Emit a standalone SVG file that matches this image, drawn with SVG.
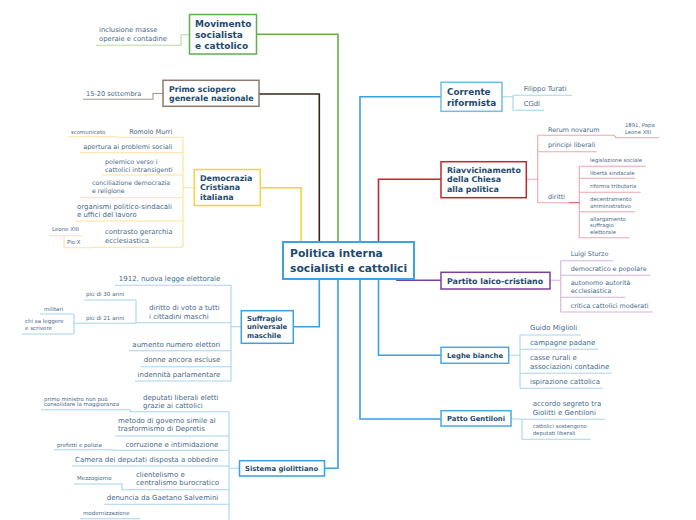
<svg xmlns="http://www.w3.org/2000/svg" width="696" height="520" viewBox="0 0 696 520">
<style>
text{font-family:"DejaVu Sans",Verdana,sans-serif}
.nt{font-weight:bold;fill:#1d4a6e}
.ct{fill:#47698a}
.nd{fill:#fff;stroke-width:1.5}
.m{fill:none;stroke-width:1.6}
.u{fill:none;stroke-width:1.1}
.g{stroke:#b7dba3}.b{stroke:#a3968d}.y{stroke:#fbe39a}.bl{stroke:#a7d4f2}.r{stroke:#eaa7aa}.p{stroke:#d4b4e2}
</style>
<rect width="696" height="520" fill="#fff"/>
<g id="connectors">
<path class="m" stroke="#f5d33a" d="M301,242V187.7H260.3"/>
<path class="m" stroke="#3b2416" d="M319.3,242V94H259"/>
<path class="m" stroke="#64b14b" d="M338,242V34.3H256.7"/>
<path class="m" stroke="#3aa0e0" d="M360,242V96.7H441"/>
<path class="m" stroke="#c1272d" d="M378.5,242V179.3H441"/>
<path class="m" stroke="#3aa0e0" d="M319.3,279V326.7H293.3"/>
<path class="m" stroke="#3aa0e0" d="M338,279V468.3H324.3"/>
<path class="m" stroke="#3aa0e0" d="M360,279V419H441"/>
<path class="m" stroke="#3aa0e0" d="M378.5,279V355.3H441"/>
<path class="m" stroke="#7b3f9e" d="M397,279V280.3H441"/>
<!-- movimento -->
<path class="u g" d="M189.5,34.7H181V45.3H96"/>
<!-- primo -->
<path class="u b" d="M163,93.5H153V99.3H83"/>
<!-- DC -->
<path class="u y" d="M194.3,187.7H183M183,137.3V247.3M183,137.3H116M116,136.7H68M183,152.7H80M183,175H102M183,197.7H80M183,221H75M183,247.3H91M91,247.7H64V235.7M82,235.7H49"/>
<!-- suffragio -->
<path class="u bl" d="M241.3,326.7H231M231,285.3V381M231,285.3H115M231,322.7H136M136,300V323.3M136,300H84M136,323.3H74M74,314V334M74,314H40M74,334H22M231,350.7H129M231,366.7H141M231,381H135"/>
<!-- sistema -->
<path class="u bl" d="M239.5,468.3H229M229,411.7V520M229,411.7H130V409.7H41M229,436H115M229,450.3H112V449.7H54M229,466H72M229,489.7H122V484H74M229,504.3H104M80,518.7H140"/>
<!-- corrente -->
<path class="u bl" d="M502,96.7H513M513,95.3V110.3M513,95.3H572M513,110.3H544"/>
<!-- riavvicinamento -->
<path class="u r" d="M526.3,179.3H537.7M537.7,135.3V202.7M537.7,135.3H614L616,137.7H659M537.7,151.7H596.7M537.7,202.7H568.7M579.3,166.3V237.7M579.3,166.3H645.7M579.3,178.3H635M579.3,192.3H640.7M579.3,211.7H635M579.3,237.7H629.3"/>
<path class="u" stroke="#d0585c" d="M568.7,202.7H579.3"/>
<!-- partito -->
<path class="u p" d="M550,280.3H560.7M560.7,260.7V312M560.7,260.7H613.3M560.7,275.3H650.7M560.7,297.3H625.7M560.7,312H652.7"/>
<!-- leghe -->
<path class="u bl" d="M508.7,355.3H520M520,335V388.3M520,335H580.7M520,349.3H598.3M520,373.3H611.7M520,388.3H602.7"/>
<!-- patto -->
<path class="u bl" d="M511,419H522M522,419V439.3M522,419.3H605M522,439.3H590.7"/>
</g>

<g id="center">
<rect x="283" y="242" width="131" height="37" fill="#fff" stroke="#3ba3e3" stroke-width="2"/>
<text class="nt" font-size="10.75" x="290" y="257">Politica interna</text>
<text class="nt" font-size="10.75" x="290" y="272">socialisti e cattolici</text>
</g>

<g id="movimento">
<rect class="nd" x="189.5" y="14.5" width="67" height="39.5" stroke="#5fae4f"/>
<text class="nt" font-size="9" x="195" y="27.3">Movimento</text>
<text class="nt" font-size="9" x="195" y="38">socialista</text>
<text class="nt" font-size="9" x="195" y="48.7">e cattolico</text>
<text class="ct" font-size="6.8" x="99" y="32">inclusione masse</text>
<text class="ct" font-size="6.8" x="99" y="41.3">operaie e contadine</text>
</g>

<g id="primo-sciopero">
<rect class="nd" x="163" y="80.3" width="96" height="26" stroke="#8b7a70"/>
<text class="nt" font-size="7.9" x="169" y="92.3">Primo sciopero</text>
<text class="nt" font-size="7.9" x="169" y="101.3">generale nazionale</text>
<text class="ct" font-size="6.6" x="86" y="95.5">15-20 settembra</text>
</g>

<g id="democrazia-cristiana">
<rect class="nd" x="194.3" y="169.5" width="66" height="36" stroke="#f5d33a"/>
<text class="nt" font-size="7.95" x="200" y="180.5">Democrazia</text>
<text class="nt" font-size="7.95" x="200" y="190.2">Cristiana</text>
<text class="nt" font-size="7.95" x="200" y="199.9">italiana</text>
<text class="ct" font-size="6.5" x="172.3" y="134" text-anchor="end">Romolo Murri</text>
<text class="ct" font-size="5.4" x="71" y="133.5">scomunicato</text>
<text class="ct" font-size="6.5" x="172.3" y="148.5" text-anchor="end">apertura ai problemi sociali</text>
<text class="ct" font-size="6.4" x="105" y="163.7">polemico verso i</text>
<text class="ct" font-size="6.4" x="105" y="172">cattolici intransigenti</text>
<text class="ct" font-size="6.2" x="92" y="184.5">conciliazione democrazia</text>
<text class="ct" font-size="6.2" x="92" y="193">e religione</text>
<text class="ct" font-size="6.95" x="77" y="208.7">organismi politico-sindacali</text>
<text class="ct" font-size="6.95" x="77" y="217.3">e uffici del lavoro</text>
<text class="ct" font-size="6.9" x="105" y="233.7">contrasto gerarchia</text>
<text class="ct" font-size="6.9" x="105" y="243">ecclesiastica</text>
<text class="ct" font-size="5.5" x="52" y="231">Leone XIII</text>
<text class="ct" font-size="5.5" x="67" y="244">Pio X</text>
</g>

<g id="suffragio">
<rect class="nd" x="241.3" y="310.7" width="52" height="32.6" stroke="#3aa0e0"/>
<text class="nt" font-size="6.85" x="247" y="320.5">Suffragio</text>
<text class="nt" font-size="6.85" x="247" y="329">universale</text>
<text class="nt" font-size="6.85" x="247" y="337.5">maschile</text>
<text class="ct" font-size="7" x="220.3" y="281.3" text-anchor="end">1912, nuova legge elettorale</text>
<text class="ct" font-size="7" x="149" y="310">diritto di voto a tutti</text>
<text class="ct" font-size="7" x="149" y="318.5">i cittadini maschi</text>
<text class="ct" font-size="5.6" x="86" y="295.7">più di 30 anni</text>
<text class="ct" font-size="5.6" x="86" y="320">più di 21 anni</text>
<text class="ct" font-size="5.5" x="44" y="310.5">militari</text>
<text class="ct" font-size="5.5" x="25" y="322.8">chi sa leggere</text>
<text class="ct" font-size="5.5" x="25" y="330.3">e scrivere</text>
<text class="ct" font-size="7" x="220.3" y="347.3" text-anchor="end">aumento numero elettori</text>
<text class="ct" font-size="7" x="220.3" y="362.3" text-anchor="end">donne ancora escluse</text>
<text class="ct" font-size="7" x="220.3" y="377.3" text-anchor="end">indennità parlamentare</text>
</g>

<g id="sistema-giolittiano">
<rect class="nd" x="239.5" y="460.7" width="85" height="15.3" stroke="#3aa0e0"/>
<text class="nt" font-size="6.85" x="245" y="470.7">Sistema giolittiano</text>
<text class="ct" font-size="7" x="143" y="399.7">deputati liberali eletti</text>
<text class="ct" font-size="7" x="143" y="408.3">grazie ai cattolici</text>
<text class="ct" font-size="5.45" x="44" y="400.5">primo ministro non può</text>
<text class="ct" font-size="5.45" x="44" y="406.3">consolidare la maggioranza</text>
<text class="ct" font-size="7" x="118" y="422.7">metodo di governo simile al</text>
<text class="ct" font-size="7" x="118" y="431">trasformismo di Depretis</text>
<text class="ct" font-size="7" x="218.3" y="446.7" text-anchor="end">corruzione e intimidazione</text>
<text class="ct" font-size="5.5" x="57" y="446.7">prefetti e polizia</text>
<text class="ct" font-size="7" x="218.3" y="462" text-anchor="end">Camera dei deputati disposta a obbedire</text>
<text class="ct" font-size="7" x="136" y="476.7">clientelismo e</text>
<text class="ct" font-size="7" x="136" y="485.3">centralismo burocratico</text>
<text class="ct" font-size="5.5" x="77" y="480.3">Mezzogiorno</text>
<text class="ct" font-size="7" x="218.3" y="500.3" text-anchor="end">denuncia da Gaetano Salvemini</text>
<text class="ct" font-size="5.5" x="83" y="515">modernizzazione</text>
</g>

<g id="corrente-riformista">
<rect class="nd" x="441" y="82.3" width="61" height="29" stroke="#6fbde9"/>
<text class="nt" font-size="8.8" x="447" y="95.3">Corrente</text>
<text class="nt" font-size="8.8" x="447" y="105.7">riformista</text>
<text class="ct" font-size="6.8" x="523.7" y="91.3">Filippo Turati</text>
<text class="ct" font-size="6.8" x="523.7" y="106">CGdl</text>
</g>

<g id="riavvicinamento">
<rect class="nd" x="441" y="161.7" width="85.3" height="36" stroke="#c0272d"/>
<text class="nt" font-size="7.9" x="447" y="172.5">Riavvicinamento</text>
<text class="nt" font-size="7.9" x="447" y="182">della Chiesa</text>
<text class="nt" font-size="7.9" x="447" y="191.5">alla politica</text>
<text class="ct" font-size="6.4" x="548" y="132">Rerum novarum</text>
<text class="ct" font-size="5.3" x="625" y="127.3">1891, Papa</text>
<text class="ct" font-size="5.3" x="625" y="133.5">Leone XIII</text>
<text class="ct" font-size="6.4" x="548" y="147.3">principi liberali</text>
<text class="ct" font-size="6.4" x="548" y="198.5">diritti</text>
<text class="ct" font-size="5.4" x="590" y="161.7">legislazione sociale</text>
<text class="ct" font-size="5.4" x="590" y="175">libertà sindacale</text>
<text class="ct" font-size="5.4" x="590" y="187.7">riforma tributaria</text>
<text class="ct" font-size="5.4" x="590" y="201">decentramento</text>
<text class="ct" font-size="5.4" x="590" y="207.7">amministrativo</text>
<text class="ct" font-size="5.4" x="590" y="221">allargamento</text>
<text class="ct" font-size="5.4" x="590" y="227.3">suffragio</text>
<text class="ct" font-size="5.4" x="590" y="233.7">elettorale</text>
</g>

<g id="partito-laico-cristiano">
<rect class="nd" x="441" y="272.3" width="109" height="16.7" stroke="#7b3f9e"/>
<text class="nt" font-size="7.9" x="447" y="283.7">Partito laico-cristiano</text>
<text class="ct" font-size="6.4" x="570.7" y="256.3">Luigi Sturzo</text>
<text class="ct" font-size="6.4" x="570.7" y="271.3">democratico e popolare</text>
<text class="ct" font-size="6.4" x="570.7" y="285">autonomo autorità</text>
<text class="ct" font-size="6.4" x="570.7" y="293">ecclesiastica</text>
<text class="ct" font-size="6.4" x="570.7" y="308">critica cattolici moderati</text>
</g>

<g id="leghe-bianche">
<rect class="nd" x="441" y="347.3" width="67.7" height="16" stroke="#4aa8e3"/>
<text class="nt" font-size="6.85" x="447" y="358">Leghe bianche</text>
<text class="ct" font-size="7" x="530" y="330">Guido Miglioli</text>
<text class="ct" font-size="7" x="530" y="344.7">campagne padane</text>
<text class="ct" font-size="7" x="530" y="359.7">casse rurali e</text>
<text class="ct" font-size="7" x="530" y="368.7">associazioni contadine</text>
<text class="ct" font-size="7" x="530" y="384">ispirazione cattolica</text>
</g>

<g id="patto-gentiloni">
<rect class="nd" x="441" y="410.7" width="70" height="15.3" stroke="#4aa8e3"/>
<text class="nt" font-size="6.85" x="447" y="420.7">Patto Gentiloni</text>
<text class="ct" font-size="7" x="532.7" y="406">accordo segreto tra</text>
<text class="ct" font-size="7" x="532.7" y="415">Giolitti e Gentiloni</text>
<text class="ct" font-size="5.4" x="532.7" y="428">cattolici sostengono</text>
<text class="ct" font-size="5.4" x="532.7" y="434.7">deputati liberali</text>
</g>
</svg>
